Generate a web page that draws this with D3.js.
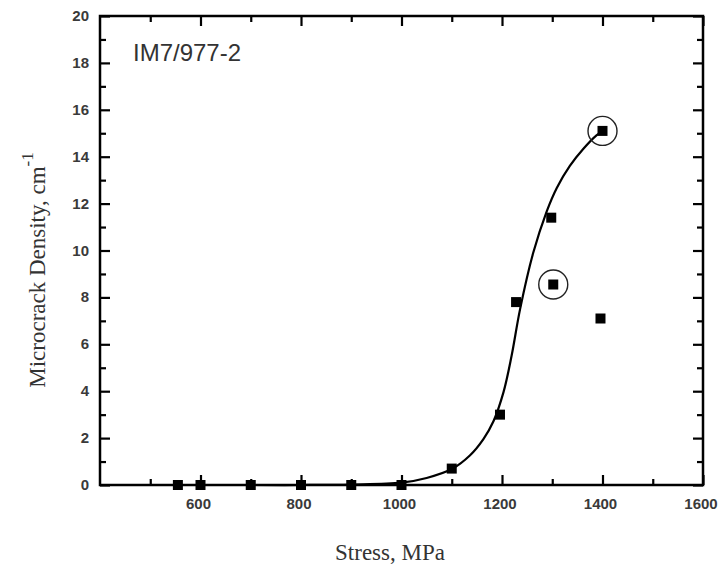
<!DOCTYPE html>
<html><head><meta charset="utf-8">
<script src="https://cdn.jsdelivr.net/npm/d3@7"></script>
<style>body{margin:0;background:#fff}</style>
</head><body>
<svg id="c" width="723" height="569"></svg>
<script>
// Measured points
const stress  = [555, 600, 700, 800, 900, 1000, 1100, 1196, 1228, 1298, 1302, 1400, 1396];
const density = [0, 0, 0, 0, 0, 0, 0.7, 3.0, 7.8, 11.4, 8.55, 15.1, 7.1];
// Circled points (indices into the arrays above)
const circled = [10, 11];
// Fitted curve
const fitX = [555, 700, 800, 900, 1000, 1050, 1100, 1136, 1163, 1183, 1203, 1219, 1236, 1262, 1289, 1309, 1335, 1362, 1388, 1400];
const fitY = [0, 0, 0, 0.02, 0.1, 0.3, 0.68, 1.26, 1.96, 2.72, 3.96, 5.5, 7.5, 9.89, 11.67, 12.67, 13.61, 14.34, 14.91, 15.09];
const xTickLabels = [600, 800, 1000, 1200, 1400, 1600];
const yTickLabels = [0, 2, 4, 6, 8, 10, 12, 14, 16, 18, 20];
const label = "IM7/977-2";

const svg = d3.select("#c");
const L = 100, R = 703, T = 16, B = 485;
const x = d3.scaleLinear().domain([400, 1600]).range([L, R]);
const y = d3.scaleLinear().domain([0, 20]).range([B, T]);

const ink = "#000";
const axisCol = "#3a3a3a";

function addTicks(g) {
  g.selectAll("path.domain").remove();
  g.selectAll("line").attr("stroke", ink).attr("stroke-width", 2.2);
}
const xMinor = d3.range(500, 1600, 100).filter(v => v % 200 !== 0);
const xMajor = d3.range(600, 1601, 200);
const yMinor = d3.range(1, 20, 2);
const yMajor = d3.range(0, 21, 2);

svg.append("g").attr("transform", `translate(0,${B})`)
  .call(d3.axisBottom(x).tickValues(xMajor).tickSize(-10).tickFormat(""))
  .call(addTicks);
svg.append("g").attr("transform", `translate(0,${B})`)
  .call(d3.axisBottom(x).tickValues(xMinor).tickSize(-6).tickFormat(""))
  .call(addTicks);
svg.append("g").attr("transform", `translate(0,${T})`)
  .call(d3.axisTop(x).tickValues(xMajor).tickSize(-10).tickFormat(""))
  .call(addTicks);
svg.append("g").attr("transform", `translate(0,${T})`)
  .call(d3.axisTop(x).tickValues(xMinor).tickSize(-6).tickFormat(""))
  .call(addTicks);
svg.append("g").attr("transform", `translate(${L},0)`)
  .call(d3.axisLeft(y).tickValues(yMajor).tickSize(-10).tickFormat(""))
  .call(addTicks);
svg.append("g").attr("transform", `translate(${L},0)`)
  .call(d3.axisLeft(y).tickValues(yMinor).tickSize(-6).tickFormat(""))
  .call(addTicks);
svg.append("g").attr("transform", `translate(${R},0)`)
  .call(d3.axisRight(y).tickValues(yMajor).tickSize(-10).tickFormat(""))
  .call(addTicks);
svg.append("g").attr("transform", `translate(${R},0)`)
  .call(d3.axisRight(y).tickValues(yMinor).tickSize(-6).tickFormat(""))
  .call(addTicks);

svg.append("rect").attr("x", L).attr("y", T).attr("width", R - L).attr("height", B - T)
  .attr("fill", "none").attr("stroke", ink).attr("stroke-width", 2.5);

svg.append("g").selectAll("text").data(xTickLabels).join("text")
  .attr("x", d => x(d) - 2).attr("y", 509)
  .attr("text-anchor", "middle")
  .attr("font-family", "Liberation Sans, Arial, sans-serif").attr("font-weight", "bold")
  .attr("font-size", 15).attr("fill", axisCol).text(d => d);
svg.append("g").selectAll("text").data(yTickLabels).join("text")
  .attr("x", 89).attr("y", d => y(d) + 5)
  .attr("text-anchor", "end")
  .attr("font-family", "Liberation Sans, Arial, sans-serif").attr("font-weight", "bold")
  .attr("font-size", 15).attr("fill", axisCol).text(d => d);

svg.append("text").attr("x", 390).attr("y", 560).attr("text-anchor", "middle")
  .attr("font-family", "Liberation Serif, Times New Roman, serif").attr("font-size", 23)
  .attr("fill", "#333").text("Stress, MPa");
const yt = svg.append("text").attr("transform", "translate(45,270) rotate(-90)")
  .attr("text-anchor", "middle")
  .attr("font-family", "Liberation Serif, Times New Roman, serif").attr("font-size", 23)
  .attr("fill", "#333");
yt.append("tspan").text("Microcrack Density, cm");
yt.append("tspan").attr("dy", -12).attr("font-size", 17).text("-1");

svg.append("text").attr("x", 133).attr("y", 61)
  .attr("font-family", "Liberation Sans, Arial, sans-serif").attr("font-size", 24)
  .attr("fill", "#333").text(label);

const fit = fitX.map((v, i) => [v, fitY[i]]);
svg.append("path").datum(fit)
  .attr("d", d3.line().x(d => x(d[0])).y(d => y(d[1])).curve(d3.curveCatmullRom.alpha(0.5)))
  .attr("fill", "none").attr("stroke", ink).attr("stroke-width", 2.2);

const pts = stress.map((v, i) => ({x: v, y: density[i], i}));
const s = 10;
svg.append("g").selectAll("rect").data(pts).join("rect")
  .attr("x", d => x(d.x) - s / 2).attr("y", d => y(d.y) - s / 2)
  .attr("width", s).attr("height", s).attr("fill", ink);

svg.append("g").selectAll("circle").data(circled.map(i => pts[i])).join("circle")
  .attr("cx", d => x(d.x)).attr("cy", d => y(d.y)).attr("r", 14.5)
  .attr("fill", "none").attr("stroke", "#222").attr("stroke-width", 1.4);
</script>
</body></html>
